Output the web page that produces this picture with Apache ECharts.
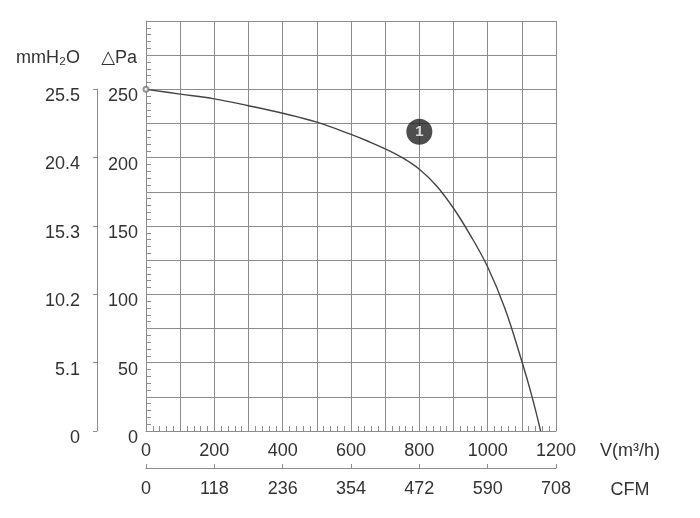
<!DOCTYPE html>
<html>
<head>
<meta charset="utf-8">
<script src="https://cdn.jsdelivr.net/npm/echarts@6/dist/echarts.min.js"></script>
<style>
    html, body {margin: 0; padding: 0; background: #fff;}
    #chart {width: 700px; height: 518px;}
</style>
</head>
<body>
<div id="chart"></div>
<script>
// fan curve
const flow = [0, 100, 200, 300, 400, 500, 600, 650, 700, 750, 800, 850, 900, 950, 1000, 1050, 1100, 1130, 1155]
const pressure = [250, 246.5, 243, 238, 232.5, 226, 217, 212, 206.5, 200, 191.5, 179.5, 163, 143, 120, 90, 51, 25, 0]

// tick labels
const flowLabels = [0, 200, 400, 600, 800, 1000, 1200]
const cfmLabels = [0, 118, 236, 354, 472, 590, 708]
const paLabels = [0, 50, 100, 150, 200, 250]
const mmLabels = ['0', '5.1', '10.2', '15.3', '20.4', '25.5']

// curve number badge
const badge = [800, 219]

const fontFamily = 'Liberation Sans, Arial, DejaVu Sans, sans-serif'
const fontSize = 18
const textColor = '#333'
const gridColor = '#8c8c8c'

const chart = echarts.init(document.getElementById('chart'))

chart.setOption({
    animation: false,
    textStyle: {fontFamily: fontFamily},
    grid: [
        {left: 146, right: 144, top: 21, bottom: 87},
        // only there to carry the mmH2O scale
        {left: 97, width: 10, top: 89, bottom: 87}
    ],
    xAxis: [
        {
            type: 'value',
            gridIndex: 0,
            min: 0,
            max: 1200,
            interval: 100,
            name: 'V(m³/h)',
            nameLocation: 'end',
            nameGap: 74,
            nameTextStyle: {color: textColor, fontSize: fontSize, align: 'center', verticalAlign: 'top', padding: [11, 0, 0, 0]},
            axisLine: {lineStyle: {color: gridColor}},
            axisTick: {show: false, inside: true},
            minorTick: {show: true, splitNumber: 5, length: 5, lineStyle: {color: gridColor}},
            splitLine: {show: true, lineStyle: {color: gridColor, width: 1}},
            axisLabel: {
                color: textColor,
                fontSize: fontSize,
                margin: 11,
                formatter: v => flowLabels.includes(v) ? String(v) : ''
            }
        },
        {
            type: 'value',
            gridIndex: 0,
            position: 'bottom',
            offset: 37,
            min: 0,
            max: cfmLabels[cfmLabels.length - 1],
            interval: cfmLabels[1],
            name: 'CFM',
            nameLocation: 'end',
            nameGap: 74,
            nameTextStyle: {color: textColor, fontSize: fontSize, align: 'center', verticalAlign: 'top', padding: [13, 0, 0, 0]},
            axisLine: {show: true, lineStyle: {color: gridColor}},
            axisTick: {show: true, inside: true, length: 4, lineStyle: {color: gridColor}},
            splitLine: {show: false},
            axisLabel: {color: textColor, fontSize: fontSize, margin: 12}
        },
        {
            type: 'value',
            gridIndex: 1,
            show: false
        }
    ],
    yAxis: [
        {
            type: 'value',
            gridIndex: 0,
            min: 0,
            max: 300,
            interval: 25,
            name: '△Pa',
            nameLocation: 'end',
            nameGap: -37,
            nameTextStyle: {color: textColor, fontSize: fontSize, align: 'right', verticalAlign: 'middle', padding: [0, 9, 0, 0]},
            axisLine: {show: true, lineStyle: {color: gridColor}},
            axisTick: {show: false, inside: true},
            minorTick: {show: true, splitNumber: 5, length: 5, lineStyle: {color: gridColor}},
            splitLine: {show: true, lineStyle: {color: gridColor, width: 1}},
            axisLabel: {
                color: textColor,
                fontSize: fontSize,
                margin: 8,
                verticalAlign: 'top',
                lineHeight: 14,
                formatter: v => paLabels.includes(v) ? String(v) : ''
            }
        },
        {
            type: 'value',
            gridIndex: 1,
            position: 'left',
            min: 0,
            max: Number(mmLabels[mmLabels.length - 1]),
            interval: Number(mmLabels[1]),
            name: 'mmH₂O',
            nameLocation: 'end',
            nameGap: 31,
            nameTextStyle: {color: textColor, fontSize: fontSize, align: 'right', verticalAlign: 'middle', padding: [0, 17, 0, 0]},
            axisLine: {show: true, lineStyle: {color: gridColor}},
            axisTick: {show: true, length: 4, lineStyle: {color: gridColor}},
            splitLine: {show: false},
            axisLabel: {
                color: textColor,
                fontSize: fontSize,
                margin: 17,
                verticalAlign: 'top',
                lineHeight: 14,
                formatter: (v, i) => mmLabels[i] !== undefined ? mmLabels[i] : ''
            }
        }
    ],
    series: [
        {
            type: 'line',
            xAxisIndex: 0,
            yAxisIndex: 0,
            data: flow.map((x, i) => [x, pressure[i]]),
            smooth: 0.4,
            showSymbol: false,
            lineStyle: {color: '#444', width: 1.4},
            z: 3
        },
        {
            // little open ring at the start of the curve
            type: 'scatter',
            xAxisIndex: 0,
            yAxisIndex: 0,
            data: [[flow[0], pressure[0]]],
            symbol: 'emptyCircle',
            symbolSize: 5,
            itemStyle: {color: '#777', borderWidth: 1},
            z: 4
        },
        {
            type: 'scatter',
            xAxisIndex: 0,
            yAxisIndex: 0,
            data: [badge],
            symbolSize: 26,
            itemStyle: {color: '#222'},
            label: {
                show: true,
                position: 'inside',
                formatter: '1',
                color: '#fff',
                fontSize: 15,
                fontWeight: 'bold'
            },
            z: 5
        }
    ]
})
</script>
</body>
</html>
